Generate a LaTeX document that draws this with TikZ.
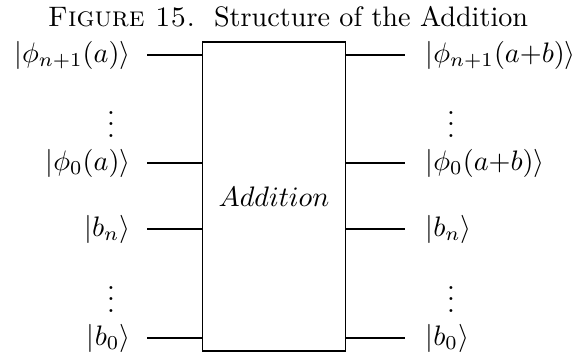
\documentclass[tikz,border=0pt]{standalone}
\usepackage{amsmath,amssymb}
\usepackage{tikz}
\usetikzlibrary{positioning}

\begin{document}
\begin{tikzpicture}[
  x=0.355pt, y=-0.355pt,
  gate/.style={rectangle, draw, line width=0.4pt,
    minimum width=50.8pt, minimum height=109.7pt, inner sep=0pt},
  inLbl/.style={anchor=east, inner sep=0pt},
  outLbl/.style={anchor=west, inner sep=0pt},
  wire/.style={line width=0.4pt},
]
  \useasboundingbox (0,0) rectangle (576,353);

  %% ── Caption ─────────────────────────────────────────────────
  \node (cap) at (288,17) {\textsc{Figure 15.}\ \ Structure of the Addition};

  %% ── Addition box ────────────────────────────────────────────
  \node[gate] (add) at (274,196.5) {$Addition$};

  %% ── Input labels ────────────────────────────────────────────
  \node[inLbl] (inA)  at (131,55)  {$|\phi_{n+1}(a)\rangle$};
  \node (inDotsA)     at (111,116) {$\vdots$};
  \node[inLbl] (inA0) at (131,163) {$|\phi_0(a)\rangle$};
  \node[inLbl] (inB)  at (131,229) {$|b_n\rangle$};
  \node (inDotsB)     at (111,291) {$\vdots$};
  \node[inLbl] (inB0) at (131,338) {$|b_0\rangle$};

  %% ── Output labels ───────────────────────────────────────────
  \node[outLbl] (outA)  at (425,55)  {$|\phi_{n+1}(a{+}b)\rangle$};
  \node (outDotsA)      at (451,116) {$\vdots$};
  \node[outLbl] (outA0) at (425,163) {$|\phi_0(a{+}b)\rangle$};
  \node[outLbl] (outB)  at (425,229) {$|b_n\rangle$};
  \node (outDotsB)      at (451,291) {$\vdots$};
  \node[outLbl] (outB0) at (425,338) {$|b_0\rangle$};

  %% ── Wires ───────────────────────────────────────────────────
  \foreach \l in {inA, inA0, inB, inB0}
    \draw[wire, shorten >=5.7pt] (add.west |- \l) -- (\l.east);
  \foreach \r in {outA, outA0, outB, outB0}
    \draw[wire, shorten >=7.1pt] (add.east |- \r) -- (\r.west);

\end{tikzpicture}
\end{document}
